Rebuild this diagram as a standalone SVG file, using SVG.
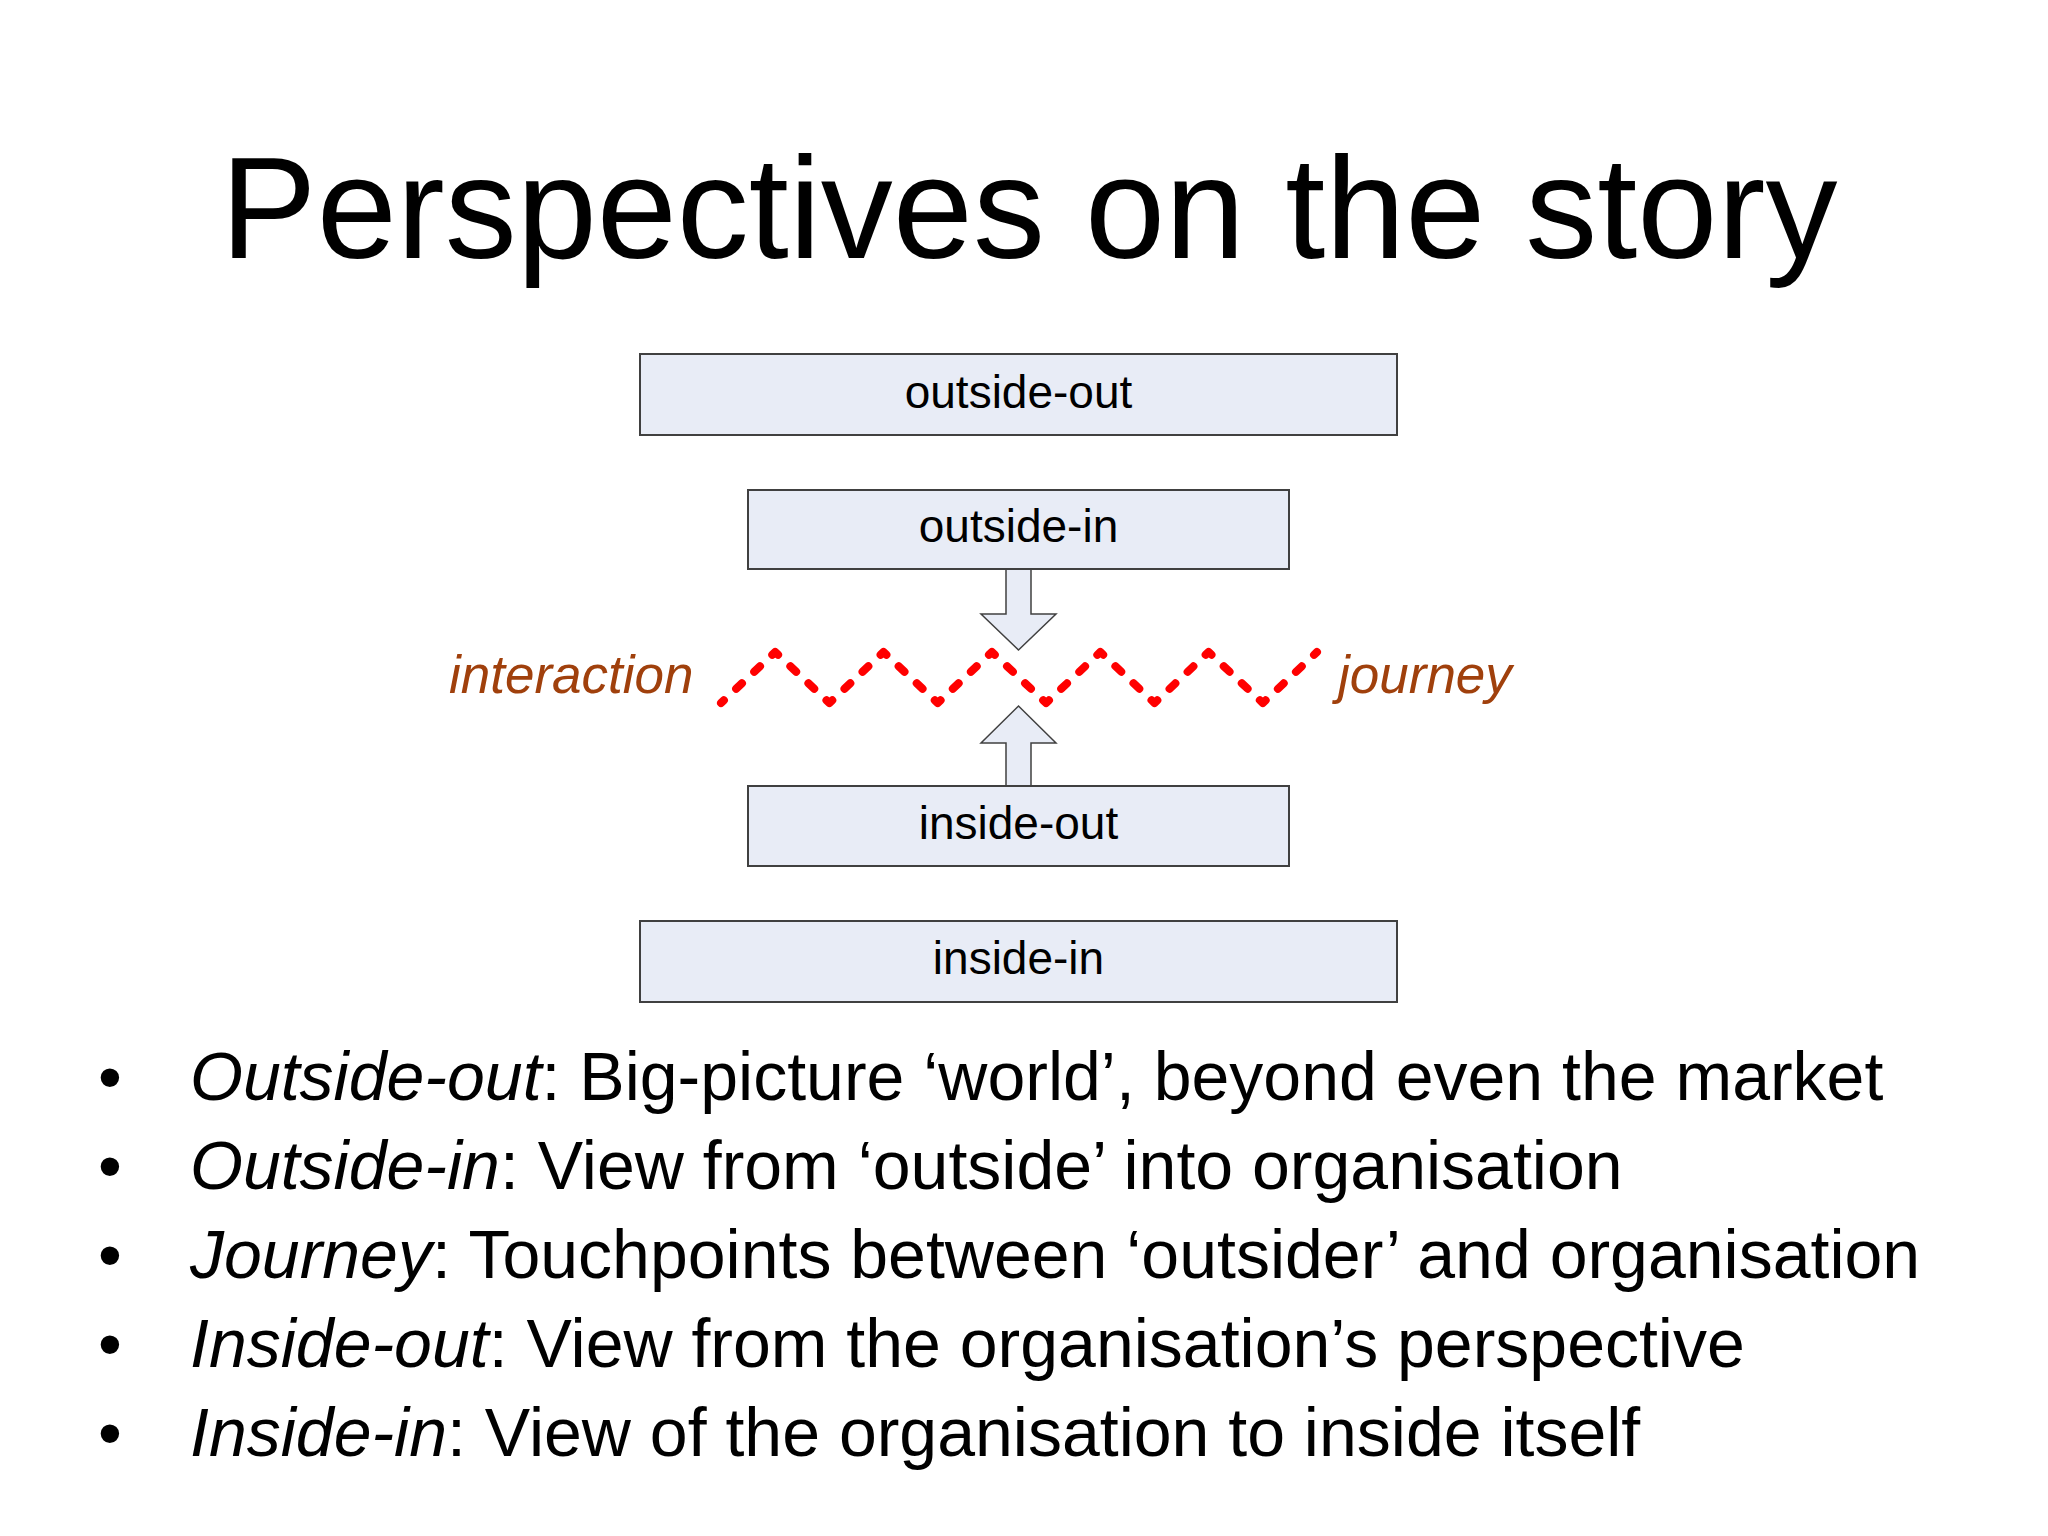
<svg xmlns="http://www.w3.org/2000/svg" width="2048" height="1536" viewBox="0 0 2048 1536">
  <style>
    .box { fill: #E8ECF6; stroke: #404040; stroke-width: 2; }
    .lbl { font-family: "Liberation Sans", Arial, sans-serif; font-size: 46px; fill: #000; text-anchor: middle; }
    .arrow { fill: #E8ECF6; stroke: #404040; stroke-width: 1.5; stroke-linejoin: miter; }
    .side { font-family: "Liberation Sans", Arial, sans-serif; font-size: 53px; font-style: italic; fill: #A0400C; }
    .bul { font-family: "Liberation Sans", Arial, sans-serif; font-size: 68px; fill: #000; }
    .zig { fill: none; stroke: #FF0000; stroke-width: 8; stroke-linecap: round; stroke-linejoin: round; stroke-dasharray: 8 16.8; stroke-dashoffset: 4; }
  </style>
  <rect x="0" y="0" width="2048" height="1536" fill="#FFFFFF"/>

  <text x="1029" y="258" font-family="Liberation Sans, Arial, sans-serif" font-size="144" text-anchor="middle" fill="#000">Perspectives on the story</text>

  <g id="connectors">
    <path id="arrow-down" class="arrow" d="M1006,569 L1031,569 L1031,614 L1056,614 L1018.5,650 L981,614 L1006,614 Z"/>
    <path id="arrow-up" class="arrow" d="M1006,786 L1031,786 L1031,743 L1056,743 L1018.5,706 L981,743 L1006,743 Z"/>
    <path id="zigzag" class="zig" d="M721,703 L775.2,652 L829.4,703 L883.5,652 L937.7,703 L991.9,652 L1046.1,703 L1100.3,652 L1154.5,703 L1208.6,652 L1262.8,703 L1317,652"/>
  </g>

  <g id="node-outside-out">
    <rect class="box" x="640" y="354" width="757" height="81"/>
    <text class="lbl" x="1018.5" y="408">outside-out</text>
  </g>
  <g id="node-outside-in">
    <rect class="box" x="748" y="490" width="541" height="79"/>
    <text class="lbl" x="1018.5" y="542">outside-in</text>
  </g>
  <g id="node-inside-out">
    <rect class="box" x="748" y="786" width="541" height="80"/>
    <text class="lbl" x="1018.5" y="839">inside-out</text>
  </g>
  <g id="node-inside-in">
    <rect class="box" x="640" y="921" width="757" height="81"/>
    <text class="lbl" x="1018.5" y="974">inside-in</text>
  </g>

  <g id="label-interaction">
    <text class="side" x="449" y="693">interaction</text>
  </g>
  <g id="label-journey">
    <text class="side" x="1338" y="693">journey</text>
  </g>

  <g id="bullets">
    <text class="bul" x="98" y="1100">•</text>
    <text class="bul" x="190" y="1100"><tspan font-style="italic">Outside-out</tspan>: Big-picture ‘world’, beyond even the market</text>
    <text class="bul" x="98" y="1189">•</text>
    <text class="bul" x="190" y="1189"><tspan font-style="italic">Outside-in</tspan>: View from ‘outside’ into organisation</text>
    <text class="bul" x="98" y="1278">•</text>
    <text class="bul" x="190" y="1278"><tspan font-style="italic">Journey</tspan>: Touchpoints between ‘outsider’ and organisation</text>
    <text class="bul" x="98" y="1367">•</text>
    <text class="bul" x="190" y="1367"><tspan font-style="italic">Inside-out</tspan>: View from the organisation’s perspective</text>
    <text class="bul" x="98" y="1456">•</text>
    <text class="bul" x="190" y="1456"><tspan font-style="italic">Inside-in</tspan>: View of the organisation to inside itself</text>
  </g>
</svg>
